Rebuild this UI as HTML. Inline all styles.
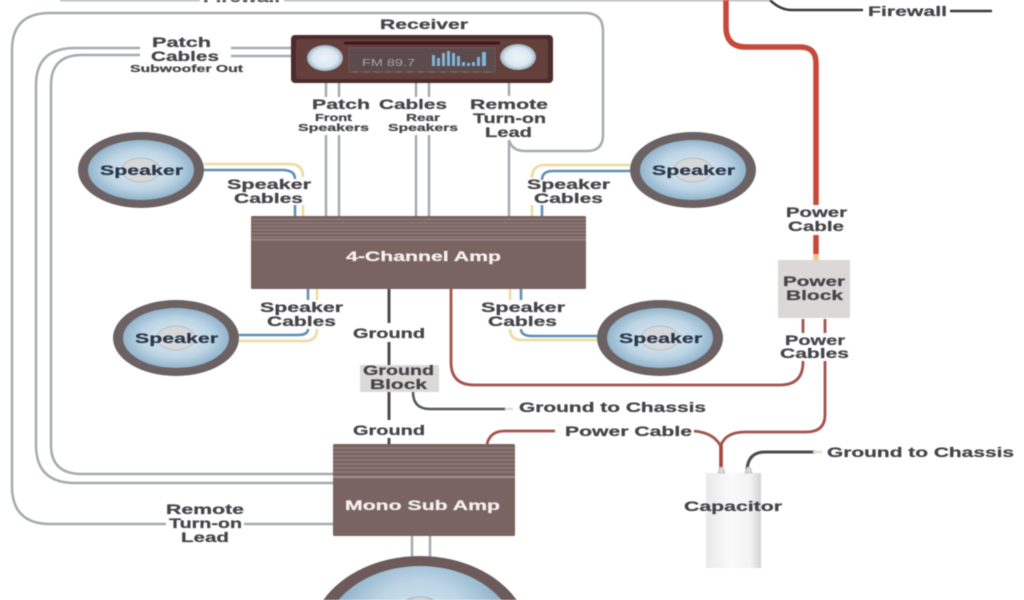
<!DOCTYPE html>
<html><head><meta charset="utf-8"><style>
html,body{margin:0;padding:0;background:#fff;width:1024px;height:600px;overflow:hidden}
svg{display:block;overflow:hidden;filter:blur(.6px)}
text{font-family:"Liberation Sans",sans-serif;font-weight:700;fill:#454549;font-size:14px;stroke:#454549;stroke-width:.25px}
.s{font-size:10.5px}
.w{fill:#f4f1f0;stroke:#f4f1f0}
.k{fill:#2a374b;stroke:#2a374b}
.c{fill:none;stroke-linecap:butt}
.g{stroke:#a3acb1;stroke-width:2.5}
.b{stroke:#5f8fb4;stroke-width:2.6}
.y{stroke:#ecdca0;stroke-width:2.6}
.r{stroke:#a4534c;stroke-width:2.8}
.d{stroke:#4c4c4e;stroke-width:3}
</style></head><body>
<svg width="1024" height="600" viewBox="0 0 1024 600" xmlns="http://www.w3.org/2000/svg">
<defs>
<radialGradient id="cone" cx="50%" cy="50%" r="55%"><stop offset="0" stop-color="#e4ecf2"/><stop offset=".6" stop-color="#bdd5e5"/><stop offset="1" stop-color="#86abc6"/></radialGradient>
<radialGradient id="cone2" gradientUnits="userSpaceOnUse" cx="420" cy="640" r="97"><stop offset="0" stop-color="#e4ecf2"/><stop offset=".6" stop-color="#bdd5e5"/><stop offset="1" stop-color="#86abc6"/></radialGradient>
<radialGradient id="lamp"><stop offset="0" stop-color="#eef4f9"/><stop offset=".7" stop-color="#dbe8f2"/><stop offset="1" stop-color="#9db4c2"/></radialGradient>
<linearGradient id="cap" x1="0" x2="1"><stop offset="0" stop-color="#e9e9ea"/><stop offset=".45" stop-color="#fafafa"/><stop offset=".8" stop-color="#f3f3f3"/><stop offset="1" stop-color="#d4d4d6"/></linearGradient>
</defs>

<!-- Firewall -->
<path class="c" d="M60 0H200M284 0H770" stroke="#a9adaa" stroke-width="2.5"/>
<text x="203" y="2" textLength="77" lengthAdjust="spacingAndGlyphs">Firewall</text>
<path class="c" d="M770 0Q780 10 792 10H863M950 11H992" stroke="#3a3a3a" stroke-width="2.5"/>
<text x="868" y="16" textLength="79" lengthAdjust="spacingAndGlyphs">Firewall</text>

<!-- Grey cables -->
<path class="c g" d="M333 524H244M166 524H50Q12 524 12 486V50Q12 13 50 13H585Q603 13 603 31V135Q603 151 587 151H525Q512 151 509 140"/>
<path class="c g" d="M140 48H75Q36 48 36 85V445Q36 483 75 483H333"/>
<path class="c g" d="M140 55H82Q51 55 51 85V445Q51 474 82 474H333"/>
<path class="c g" d="M231 48H292M231 56H292"/>
<path class="c g" d="M326 82V97M339 82V97M416 82V97M429 82V97M509 82V96M326 135V216M339 135V216M416 135V216M429 135V216M509 140V216"/>
<path class="c g" stroke-width="3" d="M412 536V558M430 536V558"/>

<!-- Speaker cables -->
<path class="c y" d="M204 164H290Q303 164 303 177M303 205V216"/>
<path class="c b" d="M204 170H282Q295 170 295 179M295 205V216"/>
<path class="c y" d="M630 165H545Q532 165 532 178M532 205V216"/>
<path class="c b" d="M630 171H553Q542 171 542 180M542 205V216"/>
<path class="c y" d="M317 289V300M317 329Q317 341 305 341H239"/>
<path class="c b" d="M308 289V300M308 329Q308 335 298 335H239"/>
<path class="c y" d="M510 289V300M510 329Q510 340 522 340H597"/>
<path class="c b" d="M521 289V300M521 329Q521 336 532 336H597"/>

<!-- Ground -->
<path class="c d" d="M389 289V323M389 342V365M389 392V420M389 438V444"/>
<path class="c" stroke="#55585a" stroke-width="2.5" d="M413 392Q413 409 430 409H505"/>
<path class="c" stroke="#e4e0c6" stroke-width="2.5" d="M505 409H513"/>
<path class="c d" d="M747 470Q748 452 765 452H815"/>
<path class="c" stroke="#e4e0c6" stroke-width="2.5" d="M813 452H822"/>

<!-- Power -->
<path class="c" stroke="#c8483c" stroke-width="5.500" d="M726 0V27Q726 47 746 47H800Q816 47 816 63V205M816 235V255"/>
<path class="c" stroke="#ecc98a" stroke-width="5.500" d="M816 254V260"/>
<path class="c r" d="M451 289V362Q451 385 474 385H780Q803 385 803 362V361M803 319V333M825 319V333M825 361V415Q825 432 806 432H745Q726 432 721 445"/>
<path class="c r" d="M694 431Q715 433 721 447"/>
<path class="c" stroke="#a8443f" stroke-width="3.600" d="M721 445V469"/>
<path class="c r" d="M487 444Q490 431 505 431H555"/>

<!-- Receiver -->
<rect x="291" y="35" width="262" height="48" rx="4" fill="#4d2b2a"/>
<rect x="296" y="39" width="252" height="40" rx="3" fill="#64403d"/>
<rect x="344" y="41.500" width="156" height="3" fill="#3c1a1a"/>
<rect x="349" y="48" width="146" height="24" fill="#5c4a4c" stroke="#6d5a5a"/>
<ellipse cx="325" cy="58" rx="18" ry="13" fill="url(#lamp)"/>
<ellipse cx="518" cy="57" rx="18" ry="13" fill="url(#lamp)"/>
<text x="362" y="66" class="s" style="fill:#a9a5a8;stroke:none;font-weight:400" textLength="53" lengthAdjust="spacingAndGlyphs">FM 89.7</text>
<g fill="#7fb7d8"><rect x="432" y="55" width="3" height="11"/><rect x="437" y="58" width="3" height="8"/><rect x="442" y="53" width="3" height="13"/><rect x="447" y="51" width="3" height="15"/><rect x="452" y="53" width="3" height="13"/><rect x="457" y="56" width="3" height="10"/><rect x="462" y="62" width="3" height="4"/><rect x="467" y="63" width="3" height="3"/><rect x="472" y="62" width="3" height="4"/><rect x="477" y="57" width="3" height="9"/><rect x="482" y="52" width="4" height="14"/></g>
<path d="M352 72H492" stroke="#8a6f6c" stroke-width="1" stroke-dasharray="6 5"/>

<!-- 4 channel amp -->
<rect x="251" y="216" width="335" height="73" rx="1.500" fill="#7a6461"/>
<path d="M251 219.500H586M251 223H586M251 226.500H586M251 230H586M251 233.500H586M251 237H586" stroke="#94827f" stroke-width="1"/>
<rect x="251" y="239" width="335" height="1.500" fill="#9b8986"/>
<text class="w" x="346" y="261" textLength="155" lengthAdjust="spacingAndGlyphs">4-Channel Amp</text>

<!-- Mono amp -->
<rect x="333" y="444" width="182" height="92" rx="1.500" fill="#7a6461"/>
<path d="M333 448H515M333 452H515M333 456H515M333 460H515M333 464H515M333 468H515M333 472H515" stroke="#94827f" stroke-width="1"/>
<rect x="333" y="476" width="182" height="2" fill="#a29290"/>
<text class="w" x="345" y="510" textLength="155" lengthAdjust="spacingAndGlyphs">Mono Sub Amp</text>

<!-- Speakers -->
<ellipse cx="141" cy="170" rx="63" ry="38" fill="#6c6264"/><ellipse cx="141" cy="170" rx="53" ry="30" fill="url(#cone)"/><ellipse cx="141" cy="170" rx="19" ry="12" fill="#d6d8da" stroke="#b5bcc2"/>
<ellipse cx="693" cy="170" rx="63" ry="38" fill="#6c6264"/><ellipse cx="693" cy="170" rx="53" ry="30" fill="url(#cone)"/><ellipse cx="693" cy="170" rx="19" ry="12" fill="#d6d8da" stroke="#b5bcc2"/>
<ellipse cx="176" cy="338" rx="63" ry="38" fill="#6c6264"/><ellipse cx="176" cy="338" rx="53" ry="30" fill="url(#cone)"/><ellipse cx="176" cy="338" rx="19" ry="12" fill="#d6d8da" stroke="#b5bcc2"/>
<ellipse cx="660" cy="338" rx="63" ry="38" fill="#6c6264"/><ellipse cx="660" cy="338" rx="53" ry="30" fill="url(#cone)"/><ellipse cx="660" cy="338" rx="19" ry="12" fill="#d6d8da" stroke="#b5bcc2"/>
<!-- Subwoofer, cut at the frame edge -->
<path d="M323.300 600A110 84 0 0 1 516.700 600Z" fill="#6c5b5a"/>
<path d="M338.400 600A97 74 0 0 1 501.600 600Z" fill="url(#cone2)"/>
<path d="M406.800 600A36 43 0 0 1 433.200 600Z" fill="#d6d8da" stroke="#a9b4bb"/>
<text class="k" x="100" y="175" textLength="83" lengthAdjust="spacingAndGlyphs">Speaker</text>
<text class="k" x="652" y="175" textLength="83" lengthAdjust="spacingAndGlyphs">Speaker</text>
<text class="k" x="135" y="343" textLength="83" lengthAdjust="spacingAndGlyphs">Speaker</text>
<text class="k" x="619" y="343" textLength="83" lengthAdjust="spacingAndGlyphs">Speaker</text>

<!-- Blocks -->
<rect x="360" y="365" width="79" height="27" fill="#dcd9d9"/>
<rect x="778" y="260" width="72" height="58" fill="#dcd8d8"/>

<!-- Capacitor -->
<rect x="706" y="473" width="55" height="95" fill="url(#cap)"/>
<path d="M718 473L720 467H723L725 473ZM745 473L747 467H750L752 473Z" fill="#d8d8d8" stroke="#aaa" stroke-width=".6"/>

<!-- Labels -->
<text x="152" y="47" textLength="59" lengthAdjust="spacingAndGlyphs">Patch</text>
<text x="151" y="61" textLength="68" lengthAdjust="spacingAndGlyphs">Cables</text>
<text class="s" x="130" y="72" textLength="113" lengthAdjust="spacingAndGlyphs">Subwoofer Out</text>
<text x="380" y="29" textLength="88" lengthAdjust="spacingAndGlyphs">Receiver</text>
<text x="312" y="109" textLength="58" lengthAdjust="spacingAndGlyphs">Patch</text>
<text x="379" y="109" textLength="68" lengthAdjust="spacingAndGlyphs">Cables</text>
<text x="470" y="109" textLength="78" lengthAdjust="spacingAndGlyphs">Remote</text>
<text x="473" y="123" textLength="73" lengthAdjust="spacingAndGlyphs">Turn-on</text>
<text x="485" y="137" textLength="47" lengthAdjust="spacingAndGlyphs">Lead</text>
<text class="s" x="315" y="121" textLength="37" lengthAdjust="spacingAndGlyphs">Front</text>
<text class="s" x="298" y="131" textLength="71" lengthAdjust="spacingAndGlyphs">Speakers</text>
<text class="s" x="406" y="121" textLength="34" lengthAdjust="spacingAndGlyphs">Rear</text>
<text class="s" x="388" y="131" textLength="70" lengthAdjust="spacingAndGlyphs">Speakers</text>
<text x="227" y="189" textLength="84" lengthAdjust="spacingAndGlyphs">Speaker</text>
<text x="234" y="203" textLength="69" lengthAdjust="spacingAndGlyphs">Cables</text>
<text x="527" y="189" textLength="83" lengthAdjust="spacingAndGlyphs">Speaker</text>
<text x="534" y="203" textLength="69" lengthAdjust="spacingAndGlyphs">Cables</text>
<text x="260" y="312" textLength="83" lengthAdjust="spacingAndGlyphs">Speaker</text>
<text x="267" y="326" textLength="69" lengthAdjust="spacingAndGlyphs">Cables</text>
<text x="481" y="312" textLength="84" lengthAdjust="spacingAndGlyphs">Speaker</text>
<text x="488" y="326" textLength="69" lengthAdjust="spacingAndGlyphs">Cables</text>
<text x="353" y="338" textLength="72" lengthAdjust="spacingAndGlyphs">Ground</text>
<text x="363" y="375" textLength="71" lengthAdjust="spacingAndGlyphs">Ground</text>
<text x="370" y="389" textLength="57" lengthAdjust="spacingAndGlyphs">Block</text>
<text x="353" y="435" textLength="72" lengthAdjust="spacingAndGlyphs">Ground</text>
<text x="786" y="217" textLength="61" lengthAdjust="spacingAndGlyphs">Power</text>
<text x="788" y="231" textLength="56" lengthAdjust="spacingAndGlyphs">Cable</text>
<text x="783" y="286" textLength="62" lengthAdjust="spacingAndGlyphs">Power</text>
<text x="786" y="300" textLength="57" lengthAdjust="spacingAndGlyphs">Block</text>
<text x="785" y="345" textLength="60" lengthAdjust="spacingAndGlyphs">Power</text>
<text x="780" y="358" textLength="69" lengthAdjust="spacingAndGlyphs">Cables</text>
<text x="565" y="436" textLength="127" lengthAdjust="spacingAndGlyphs">Power Cable</text>
<text x="519" y="412" textLength="187" lengthAdjust="spacingAndGlyphs">Ground to Chassis</text>
<text x="827" y="457" textLength="187" lengthAdjust="spacingAndGlyphs">Ground to Chassis</text>
<text x="684" y="511" textLength="98" lengthAdjust="spacingAndGlyphs">Capacitor</text>
<text x="166" y="514" textLength="78" lengthAdjust="spacingAndGlyphs">Remote</text>
<text x="169" y="528" textLength="73" lengthAdjust="spacingAndGlyphs">Turn-on</text>
<text x="181" y="542" textLength="48" lengthAdjust="spacingAndGlyphs">Lead</text>
</svg>
</body></html>
